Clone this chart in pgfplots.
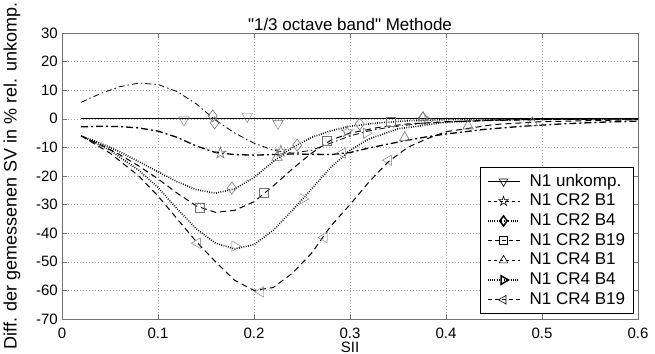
\documentclass[border=0pt]{standalone}
\usepackage{fontspec}
\setmainfont{Liberation Sans}
\newfontfamily\qfont{Liberation Sans}[Ligatures=TeXOff]
\usepackage{pgfplots}
\pgfplotsset{compat=1.18}
\definecolor{mk}{rgb}{0.45,0.45,0.45}
\definecolor{ax}{rgb}{0.45,0.45,0.45}
\pgfdeclareplotmark{pentagram}{%
  \pgfpathmoveto{\pgfpointpolar{90}{\pgfplotmarksize}}%
  \pgfpathlineto{\pgfpointpolar{126}{0.382\pgfplotmarksize}}%
  \pgfpathlineto{\pgfpointpolar{162}{\pgfplotmarksize}}%
  \pgfpathlineto{\pgfpointpolar{198}{0.382\pgfplotmarksize}}%
  \pgfpathlineto{\pgfpointpolar{234}{\pgfplotmarksize}}%
  \pgfpathlineto{\pgfpointpolar{270}{0.382\pgfplotmarksize}}%
  \pgfpathlineto{\pgfpointpolar{306}{\pgfplotmarksize}}%
  \pgfpathlineto{\pgfpointpolar{342}{0.382\pgfplotmarksize}}%
  \pgfpathlineto{\pgfpointpolar{18}{\pgfplotmarksize}}%
  \pgfpathlineto{\pgfpointpolar{54}{0.382\pgfplotmarksize}}%
  \pgfpathclose\pgfusepathqstroke}
\tikzset{
  sA/.style={black, line width=0.8bp, dash pattern=on 6bp off 3bp on 1.5bp off 3bp},
  sB/.style={black, line width=1.3bp, dash pattern=on 7bp off 3bp on 2bp off 3bp},
  sC/.style={black, line width=1.6bp, dash pattern=on 0.8bp off 1.5bp},
  sD/.style={black, line width=1bp, dash pattern=on 6bp off 4bp},
  pm/.style={only marks, mk, mark size=6bp, mark options={solid, line width=0.6bp, mk}},
}
\begin{document}
\begin{tikzpicture}
\begin{axis}[
  at={(0,0)}, anchor=south west,
  scale only axis, width=576bp, height=286bp,
  xmin=0, xmax=0.6, ymin=-70, ymax=30,
  xtick={0,0.1,0.2,0.3,0.4,0.5,0.6},
  xticklabels={0,0.1,0.2,0.3,0.4,0.5,0.6},
  ytick={-70,-60,-50,-40,-30,-20,-10,0,10,20,30},
  yticklabels={-70,-60,-50,-40,-30,-20,-10,0,10,20,30},
  /pgf/number format/assume math mode=true,
  tick align=inside, tick pos=both, major tick length=5bp,
  every tick/.style={ax, line width=0.6bp},
  axis line style={ax, line width=0.8bp},
  grid=major,
  major grid style={gray!70, line width=0.5bp, dash pattern=on 1bp off 2bp},
  xticklabel style={font=\fontsize{15bp}{18bp}\selectfont, anchor=base, yshift=-19bp, inner sep=0pt},
  yticklabel style={font=\fontsize{15bp}{18bp}\selectfont, anchor=east, inner sep=0pt, xshift=-4bp},
  xlabel={SII},
  every axis x label/.style={at={(axis description cs:0.5,0)}, anchor=base, yshift=-33bp, inner sep=0pt, font=\fontsize{15bp}{18bp}\selectfont},
  ylabel={Diff. der gemessenen SV in \% rel. unkomp.},
  every axis y label/.style={at={(axis description cs:-0.0868,0.5)}, rotate=90, anchor=center, font=\fontsize{18bp}{21bp}\selectfont},
  title={{\qfont"1/3 octave band" Methode}},
  every axis title/.style={at={(axis description cs:0.5,1)}, anchor=base, yshift=3bp, font=\fontsize{17bp}{20bp}\selectfont},
  legend style={at={(axis description cs:0.993,0.0175)}, anchor=south east,
    draw=black, line width=0.8bp, fill=white, inner xsep=7bp, inner ysep=4bp,
    font=\fontsize{17bp}{20bp}\selectfont, row sep=0pt,
    nodes={inner sep=1.5bp, text height=13bp, text depth=3.7bp},
    /tikz/every odd column/.append style={column sep=8bp}},
  legend cell align=left,
  legend image code/.code={\draw[mark repeat=2,mark phase=2] plot coordinates {(0bp,0bp) (16bp,0bp) (32bp,0bp)};},
]
% N1 unkomp.
\addplot[black, solid, line width=1bp, forget plot] coordinates {(0.02,0) (0.6,0)};
\addplot[pm, mark=triangle, mark options={rotate=180}, forget plot] coordinates {(0.127,-0.4) (0.193,0.8) (0.225,-1.6)};
\addlegendimage{black, solid, line width=0.8bp, mark=triangle, mark size=5bp, mark options={rotate=180, solid, line width=0.6bp}}
\addlegendentry{N1 unkomp.}
% N1 CR2 B1
\addplot[sB, forget plot] coordinates {(0.02,-2.8) (0.04,-2.6) (0.06,-2.7) (0.08,-3.2) (0.1,-4.3) (0.12,-6.5) (0.14,-9.5) (0.16,-11.8) (0.18,-12.5) (0.2,-12.7) (0.22,-12.5) (0.24,-12.3) (0.26,-12.4) (0.28,-12.5) (0.3,-11.8) (0.32,-10.2) (0.34,-8.8) (0.36,-7.5) (0.38,-6.3) (0.4,-5.3) (0.44,-3.7) (0.48,-2.6) (0.52,-1.8) (0.56,-1.2) (0.6,-0.8)};
\addplot[pm, mark=pentagram, forget plot] coordinates {(0.165,-12) (0.228,-11.3) (0.297,-4.5)};
\addlegendimage{black, line width=0.8bp, dash pattern=on 3bp off 3bp, mark=pentagram, mark size=5bp, mark options={solid, line width=0.6bp}}
\addlegendentry{N1 CR2 B1}
% N1 CR2 B4
\addplot[sC, forget plot] coordinates {(0.02,-6) (0.04,-8.5) (0.06,-11.5) (0.08,-15) (0.1,-18.5) (0.12,-22) (0.14,-24.8) (0.16,-26) (0.18,-24.5) (0.2,-20.5) (0.22,-15) (0.24,-10) (0.26,-6.5) (0.28,-4.2) (0.3,-2.6) (0.33,-1.4) (0.36,-0.7) (0.4,-0.3) (0.5,0) (0.6,0)};
\addplot[pm, mark=diamond, forget plot] coordinates {(0.157,1) (0.159,-1.4) (0.177,-24.2) (0.245,-9.2) (0.31,-1.8) (0.376,0.3)};
\addlegendimage{black, line width=1.2bp, dash pattern=on 0.8bp off 1.5bp, mark=diamond, mark size=5bp, mark options={solid, line width=1.5bp}}
\addlegendentry{N1 CR2 B4}
% N1 CR2 B19
\addplot[sD, forget plot] coordinates {(0.02,-6) (0.04,-9) (0.06,-12.5) (0.08,-16.5) (0.1,-21) (0.12,-26) (0.14,-30.5) (0.16,-32.7) (0.18,-32) (0.2,-29) (0.22,-23.5) (0.24,-17.5) (0.26,-12) (0.28,-7.5) (0.3,-5) (0.33,-3) (0.36,-1.8) (0.4,-1) (0.45,-0.5) (0.5,-0.2) (0.6,0)};
\addplot[pm, mark=square, mark size=4.5bp, forget plot] coordinates {(0.144,-31.2) (0.21,-26) (0.276,-7.7) (0.342,-1.2)};
\addlegendimage{black, line width=0.8bp, dash pattern=on 4bp off 3bp, mark=square, mark size=4bp, mark options={solid, line width=0.6bp}}
\addlegendentry{N1 CR2 B19}
% N1 CR4 B1
\addplot[sA, forget plot] coordinates {(0.02,5.8) (0.04,8.8) (0.06,11.2) (0.08,12.5) (0.1,12) (0.12,9.5) (0.14,5.2) (0.16,-0.5) (0.18,-5) (0.2,-8.5) (0.22,-11) (0.24,-12) (0.26,-11) (0.28,-8.5) (0.3,-6) (0.32,-4.2) (0.34,-3) (0.37,-1.8) (0.4,-1.1) (0.45,-0.6) (0.5,-0.3) (0.6,-0.1)};
\addplot[pm, mark=triangle, forget plot] coordinates {(0.224,-13.5) (0.357,-6.6) (0.376,0.4) (0.423,-2.5) (0.49,-1.4)};
\addlegendimage{black, line width=0.8bp, dash pattern=on 3bp off 3bp, mark=triangle, mark size=5bp, mark options={solid, line width=0.6bp}}
\addlegendentry{N1 CR4 B1}
% N1 CR4 B4
\addplot[sC, forget plot] coordinates {(0.02,-6) (0.05,-11) (0.08,-18) (0.1,-24) (0.12,-31.5) (0.14,-38.5) (0.16,-43.5) (0.18,-45.5) (0.2,-44) (0.22,-39) (0.24,-32) (0.26,-24.5) (0.28,-17) (0.3,-11) (0.32,-7) (0.35,-3.5) (0.4,-1.2) (0.45,-0.4) (0.5,-0.1) (0.6,0)};
\addplot[pm, mark=triangle, mark options={rotate=-90}, forget plot] coordinates {(0.18,-44.5) (0.251,-28) (0.317,-5) (0.381,-0.5)};
\addlegendimage{black, line width=1.2bp, dash pattern=on 0.8bp off 1.5bp, mark=triangle, mark size=5bp, mark options={rotate=-90, solid, line width=1.5bp}}
\addlegendentry{N1 CR4 B4}
% N1 CR4 B19
\addplot[sD, forget plot] coordinates {(0.02,-6) (0.05,-12) (0.08,-20) (0.1,-27) (0.12,-35) (0.14,-43) (0.16,-50) (0.18,-56.5) (0.2,-60) (0.22,-59) (0.24,-54) (0.26,-47) (0.28,-37.5) (0.3,-30) (0.32,-22) (0.34,-15) (0.36,-10) (0.38,-7) (0.4,-4.5) (0.45,-2) (0.5,-1) (0.6,-0.3)};
\addplot[pm, mark=triangle, mark options={rotate=90}, forget plot] coordinates {(0.141,-43.5) (0.207,-60.5) (0.273,-41.5) (0.292,-12) (0.34,-14.5)};
\addlegendimage{black, line width=0.8bp, dash pattern=on 4bp off 3bp, mark=triangle, mark size=5bp, mark options={rotate=90, solid, line width=0.6bp}}
\addlegendentry{N1 CR4 B19}
\end{axis}
\pgfresetboundingbox
\path[use as bounding box] (-62bp,-35bp) rectangle (593bp,319bp);
\end{tikzpicture}
\end{document}
